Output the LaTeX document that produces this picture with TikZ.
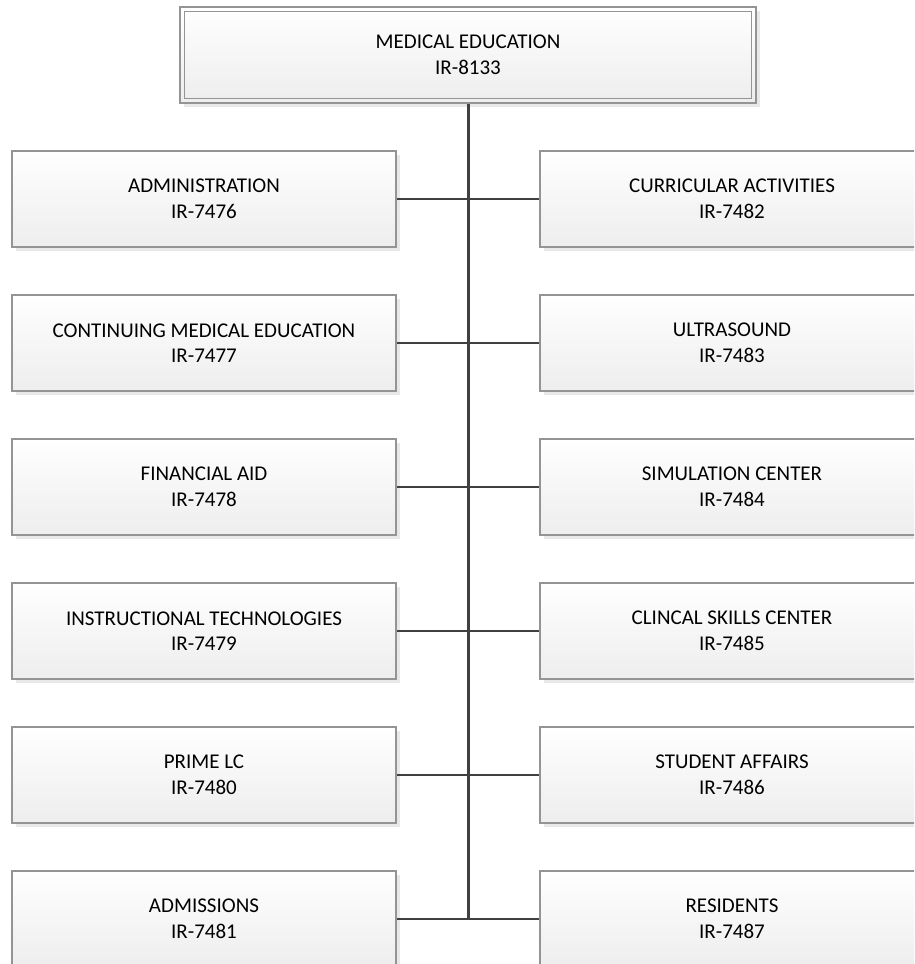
\documentclass[tikz,border=0pt]{standalone}
\usepackage{fontspec}
\setmainfont{Carlito}
\usepackage{tikz}
\usetikzlibrary{shadows}

\begin{document}
\begin{tikzpicture}[x=1pt,y=-1pt,
  deptbox/.style={draw=black!42,line width=1.2pt,top color=white,bottom color=black!7,
    minimum width=384pt,minimum height=96pt,inner sep=0pt,align=center,
    font=\fontsize{21}{25.5}\selectfont,
    drop shadow={shadow xshift=4pt,shadow yshift=-4pt,fill=black!9,opacity=1}},
  headbox/.style={deptbox,minimum width=576pt},
  trunk/.style={draw=black!75,line width=3pt},
  branch/.style={draw=black!75,line width=2.4pt}]
\useasboundingbox (0,0) rectangle (914,964);
\clip (0,0) rectangle (914,964);
% head
\node[headbox] (head) at (468,55) {MEDICAL EDUCATION\\IR-8133};
\draw[black!42,line width=1.2pt] ([shift={(5,5)}]head.north west) rectangle ([shift={(-5,-5)}]head.south east);
% left column
\node[deptbox] (adm) at (204,199) {ADMINISTRATION\\IR-7476};
\node[deptbox] (cme) at (204,343) {CONTINUING MEDICAL EDUCATION\\IR-7477};
\node[deptbox] (fin) at (204,487) {FINANCIAL AID\\IR-7478};
\node[deptbox] (ins) at (204,631) {INSTRUCTIONAL TECHNOLOGIES\\IR-7479};
\node[deptbox] (prime) at (204,775) {PRIME LC\\IR-7480};
\node[deptbox] (admis) at (204,919) {ADMISSIONS\\IR-7481};
% right column
\node[deptbox] (cur) at (732,199) {CURRICULAR ACTIVITIES\\IR-7482};
\node[deptbox] (ultra) at (732,343) {ULTRASOUND\\IR-7483};
\node[deptbox] (sim) at (732,487) {SIMULATION CENTER\\IR-7484};
\node[deptbox] (skills) at (732,631) {CLINCAL SKILLS CENTER\\IR-7485};
\node[deptbox] (stud) at (732,775) {STUDENT AFFAIRS\\IR-7486};
\node[deptbox] (res) at (732,919) {RESIDENTS\\IR-7487};
% connectors
\coordinate (trunkend) at (admis.east -| head.south);
\draw[trunk] (head.south) -- ([yshift=1.2pt]trunkend);
\draw[branch] (adm.east) -- (cur.west);
\draw[branch] (cme.east) -- (ultra.west);
\draw[branch] (fin.east) -- (sim.west);
\draw[branch] (ins.east) -- (skills.west);
\draw[branch] (prime.east) -- (stud.west);
\draw[branch] (admis.east) -- (res.west);
\end{tikzpicture}
\end{document}
